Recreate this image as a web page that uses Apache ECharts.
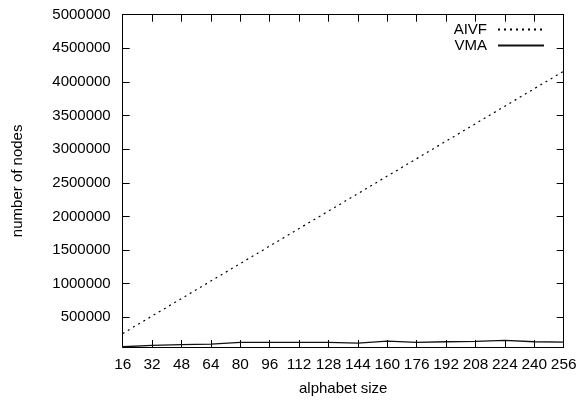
<!DOCTYPE html>
<html>
<head>
<meta charset="utf-8">
<script src="https://cdn.jsdelivr.net/npm/echarts@6/dist/echarts.min.js"></script>
<style>html,body{margin:0;padding:0;background:#fff}#c{width:580px;height:401px}</style>
</head>
<body>
<div id="c"></div>
<script>
var alphabetSizes = [16, 32, 48, 64, 80, 96, 112, 128, 144, 160, 176, 192, 208, 224, 240, 256];
var aivf = [260000, 520000, 780000, 1040000, 1300000, 1560000, 1820000, 2080000, 2340000, 2600000, 2860000, 3120000, 3380000, 3640000, 3900000, 4160000];
var vma = [63000, 84000, 93000, 103000, 128000, 128000, 128000, 128000, 118000, 147000, 128000, 137000, 143000, 157000, 137000, 132000];
var yTicks = [500000, 1000000, 1500000, 2000000, 2500000, 3000000, 3500000, 4000000, 4500000, 5000000];
var xTicks = alphabetSizes;
var yMin = 59000, yMax = 5000000;

var font = 'Liberation Sans, Arial, Helvetica, sans-serif';
var chart = echarts.init(document.getElementById('c'), null, {renderer: 'canvas'});

function pairs(xs, ys) { return xs.map(function (x, i) { return [x, ys[i]]; }); }

var xBase = {
  type: 'value', min: xTicks[0], max: xTicks[xTicks.length - 1], interval: 16,
  splitLine: {show: false},
  axisLine: {show: true, onZero: false, lineStyle: {color: '#000', width: 1}},
  axisTick: {show: true, inside: true, length: 7, lineStyle: {color: '#000', width: 1}}
};
var yBase = {
  type: 'value', min: yMin, max: yMax,
  splitLine: {show: false},
  axisLine: {show: true, onZero: false, lineStyle: {color: '#000', width: 1}},
  axisTick: {show: true, inside: true, length: 7, customValues: yTicks, lineStyle: {color: '#000', width: 1}}
};

chart.setOption({
  animation: false,
  backgroundColor: '#fff',
  textStyle: {fontFamily: font},
  grid: {left: 122.7, right: 16.3, top: 14.7, bottom: 50, show: false},
  legend: {
    orient: 'vertical', right: 35, top: 22, padding: 0, itemGap: 1,
    align: 'right', itemWidth: 46, itemHeight: 14,
    itemStyle: {opacity: 0},
    textStyle: {fontFamily: font, fontSize: 15, color: '#000', padding: [0, 6, 0, 0]},
    data: ['AIVF', 'VMA']
  },
  xAxis: [
    Object.assign({}, xBase, {
      position: 'bottom',
      name: 'alphabet size', nameLocation: 'middle', nameGap: 34,
      nameTextStyle: {fontFamily: font, fontSize: 15, color: '#000'},
      axisLabel: {show: true, margin: 10, fontFamily: font, fontSize: 15.4, color: '#000'}
    }),
    Object.assign({}, xBase, {position: 'top', axisLabel: {show: false}})
  ],
  yAxis: [
    Object.assign({}, yBase, {
      position: 'left',
      name: 'number of nodes', nameLocation: 'middle', nameGap: 97,
      nameTextStyle: {fontFamily: font, fontSize: 15, color: '#000'},
      axisLabel: {show: true, margin: 12, customValues: yTicks, fontFamily: font, fontSize: 15, color: '#000',
        formatter: function (v) { return String(Math.round(v)); }}
    }),
    Object.assign({}, yBase, {position: 'right', axisLabel: {show: false}})
  ],
  series: [
    {
      name: 'AIVF', type: 'line', data: pairs(alphabetSizes, aivf),
      symbol: 'none', color: '#000',
      lineStyle: {color: '#000', width: 1.2, type: [2, 4]}
    },
    {
      name: 'VMA', type: 'line', data: pairs(alphabetSizes, vma),
      symbol: 'none', color: '#000',
      lineStyle: {color: '#111', width: 1.3, type: 'solid'}
    }
  ]
});
</script>
</body>
</html>
